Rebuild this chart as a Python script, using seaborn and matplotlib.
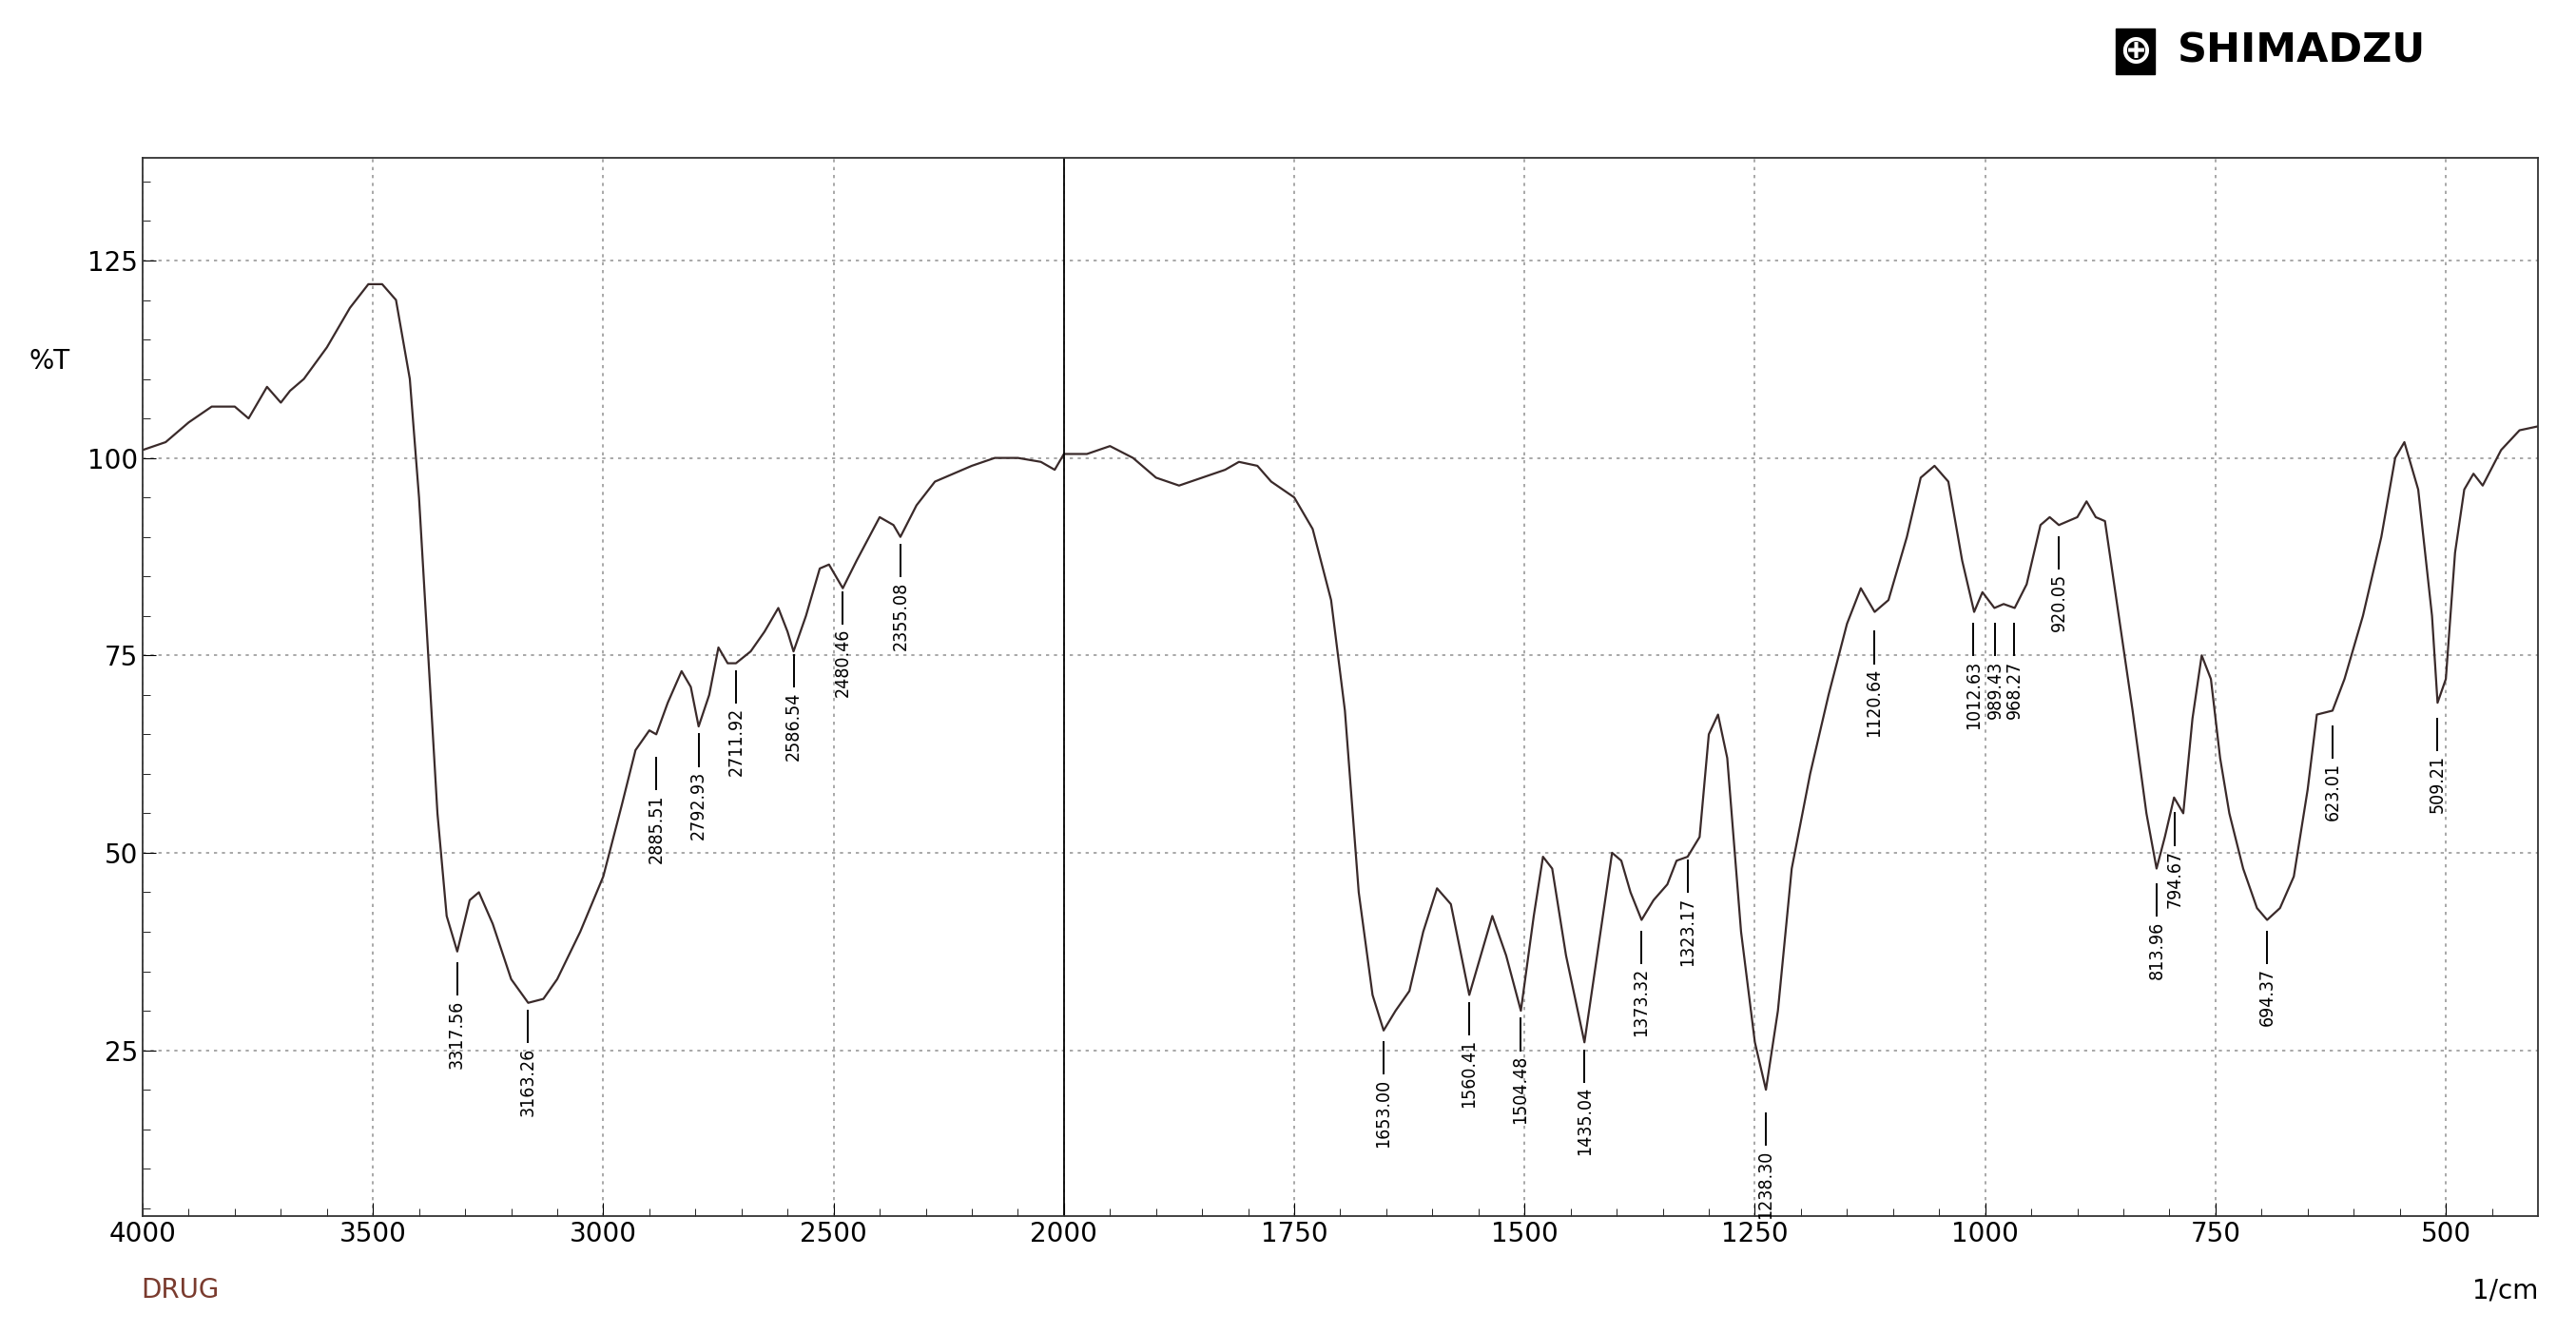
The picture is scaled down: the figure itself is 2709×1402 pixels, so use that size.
import numpy as np
import pandas as pd
import matplotlib
matplotlib.use("Agg")
import matplotlib.pyplot as plt
import seaborn as sns
from matplotlib.ticker import MultipleLocator, FixedLocator

wavenumber = [4000,3950,3900,3850,3800,3770,3750,3730,3700,3680,3650,3600,3550,3510,3480,3450,3420,3400,3380,3360,3340,3317,3290,3270,3240,3200,3163,3130,3100,3050,3000,2960,2930,2900,2885,2860,2830,2810,2793,2770,2750,2730,2712,2680,2650,2620,2600,2587,2560,2530,2510,2480,2450,2400,2370,2355,2320,2280,2240,2200,2150,2100,2050,2020,2000,1975,1950,1925,1900,1875,1850,1825,1810,1790,1775,1750,1730,1710,1695,1680,1665,1653,1640,1625,1610,1595,1580,1560,1545,1535,1520,1504,1490,1480,1470,1455,1435,1420,1405,1395,1385,1373,1360,1345,1335,1323,1310,1300,1290,1280,1265,1250,1238,1225,1210,1190,1170,1150,1135,1120,1105,1085,1070,1055,1040,1025,1012,1003,990,980,968,955,940,930,920,900,890,880,870,855,840,825,814,805,795,785,775,765,755,745,735,720,705,694,680,665,650,640,623,610,590,570,555,545,530,515,509,500,490,480,470,460,440,420,400]
transmittance = [101,102,104.5,106.5,106.5,105,107,109,107,108.5,110,114,119,122,122,120,110,95,75,55,42,37.5,44,45,41,34,31,31.5,34,40,47,56,63,65.5,65,69,73,71,66,70,76,74,74,75.5,78,81,78,75.5,80,86,86.5,83.5,87,92.5,91.5,90,94,97,98,99,100,100,99.5,98.5,100.5,100.5,101.5,100,97.5,96.5,97.5,98.5,99.5,99,97,95,91,82,68,45,32,27.5,30,32.5,40,45.5,43.5,32,38,42,37,30,42,49.5,48,37,26,38,50,49,45,41.5,44,46,49,49.5,52,65,67.5,62,40,26,20,30,48,60,70,79,83.5,80.5,82,90,97.5,99,97,87,80.5,83,81,81.5,81,84,91.5,92.5,91.5,92.5,94.5,92.5,92,80,68,55,48,52,57,55,67,75,72,62,55,48,43,41.5,43,47,58,67.5,68,72,80,90,100,102,96,80,69,72,88,96,98,96.5,101,103.5,104]

peak_labels = ["3317.56","3163.26","2885.51","2792.93","2711.92","2586.54","2480.46","2355.08","1653.00","1560.41","1504.48","1435.04","1373.32","1323.17","1238.30","1120.64","1012.63","989.43","968.27","920.05","813.96","794.67","694.37","623.01","509.21"]
peak_top = [36,30,62,65,73,75,83,89,26,31,29,25,40,49,17,78,79,79,79,90,46,55,40,66,67]

x_ticks = [4000,3500,3000,2500,2000,1750,1500,1250,1000,750,500]
y_ticks = [25,50,75,100,125]

def tx(w):
    w = np.asarray(w, dtype=float)
    return np.where(w > 2000, 2000 + (w - 2000) / 2, w)

df = pd.DataFrame({"x": tx(wavenumber), "y": transmittance})

fig = plt.figure(figsize=(27.09, 14.02), dpi=100)
ax = fig.add_axes([150/2709, 1-1279/1402, (2669-150)/2709, (1279-166)/1402])
sns.lineplot(data=df, x="x", y="y", ax=ax, color="#3a2a2a", lw=1.6, sort=False)
ax.set_xlim(tx(4000), 400)
ax.set_ylim(4, 138)
ax.set_xlabel(""); ax.set_ylabel("")

ax.xaxis.set_major_locator(FixedLocator(tx(x_ticks)))
ax.set_xticklabels([str(t) for t in x_ticks])
minor = list(range(3900, 2000, -100)) + list(range(1950, 400, -50))
ax.xaxis.set_minor_locator(FixedLocator(tx(minor)))
ax.yaxis.set_major_locator(FixedLocator(y_ticks))
ax.yaxis.set_minor_locator(MultipleLocator(5))
ax.tick_params(which="both", direction="in", labelsize=20, colors="black")
ax.tick_params(which="major", length=10)
ax.tick_params(which="minor", length=6)
ax.grid(True, which="major", ls=(0, (2, 3)), color="#999999", lw=1.2)
ax.axvline(2000, color="black", lw=1.3)
for s in ax.spines.values():
    s.set_color("#333333"); s.set_linewidth(1.3)

for lab, top in zip(peak_labels, peak_top):
    xv = tx(float(lab))
    ax.plot([xv, xv], [top, top - 4], color="black", lw=1.4)
    ax.text(xv, top - 4.6, lab, rotation=90, ha="center", va="top", fontsize=14,
            family="DejaVu Sans", fontstretch="condensed")

fig.text(30/2709, 1-380/1402, "%T", fontsize=20, va="center")
fig.text(148/2709, 1-1357/1402, "DRUG", fontsize=20, color="#7a3b2e", va="center")
fig.text(2669/2709, 1-1357/1402, "1/cm", fontsize=20, ha="right", va="center")
fig.text(2228/2709, 1-54/1402, "⊕", fontsize=30, color="white", va="center", fontweight="bold",
         bbox=dict(boxstyle="square,pad=0.08", fc="black", ec="black"))
fig.text(2290/2709, 1-54/1402, "SHIMADZU", fontsize=31, fontweight="heavy", va="center",
         family="DejaVu Sans")

fig.savefig("out.png", dpi=100)
